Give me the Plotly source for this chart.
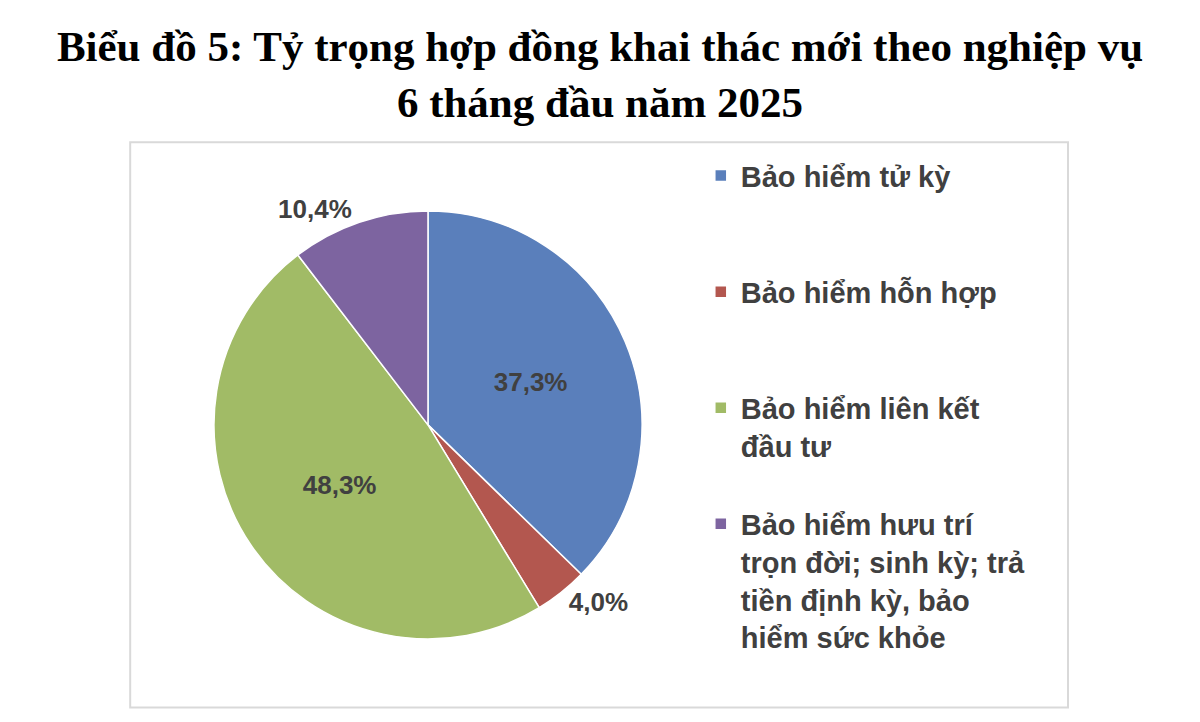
import plotly.graph_objects as go

# data
labels = [
    "Bảo hiểm tử kỳ",
    "Bảo hiểm hỗn hợp",
    "Bảo hiểm liên kết<br>đầu tư",
    "Bảo hiểm hưu trí<br>trọn đời; sinh kỳ; trả<br>tiền định kỳ, bảo<br>hiểm sức khỏe",
]
shares = [37.3, 4.0, 48.3, 10.4]
colors = ["#5A7FBB", "#B3574F", "#A1BB66", "#7D64A0"]
label_pos = ["inside", "outside", "inside", "outside"]

title_text = ("Biểu đồ 5: Tỷ trọng hợp đồng khai thác mới theo nghiệp vụ"
              "<br>6 tháng đầu năm 2025")


def pad_lines(text, n=3):
    # legend entries get the same height, like the even spacing in Excel
    count = text.count("<br>") + 1
    return text + "<br> " * max(0, n - count)


fig = go.Figure()
fig.add_trace(go.Pie(
    labels=[pad_lines(l) for l in labels],
    values=shares,
    sort=False,
    direction="clockwise",
    marker=dict(colors=colors, line=dict(color="white", width=1.5)),
    texttemplate="%{value:.1f}%",
    textposition=label_pos,
    insidetextorientation="horizontal",
    textfont=dict(family="Liberation Sans", size=26, color="#404040", weight="bold"),
    hoverinfo="label+value",
    domain=dict(x=[0.1783, 0.535], y=[0.115, 0.708]),
))

fig.update_layout(
    width=1200,
    height=722,
    margin=dict(l=0, r=0, t=0, b=0),
    paper_bgcolor="white",
    separators=",.",
    title=dict(
        text="<b>" + title_text + "</b>",
        x=0.5,
        xanchor="center",
        y=0.916,
        yanchor="top",
        font=dict(family="Liberation Serif", size=43, color="black"),
    ),
    legend=dict(
        x=0.584,
        y=0.792,
        xanchor="left",
        yanchor="top",
        valign="top",
        font=dict(family="Liberation Sans", size=29, color="#404040", weight="bold"),
        itemwidth=30,
    ),
    shapes=[dict(
        type="rect", xref="paper", yref="paper",
        x0=0.1085, x1=0.89, y0=0.02, y1=0.803,
        line=dict(color="#D9D9D9", width=2),
        layer="below",
    )],
)

fig.write_html("out.html", config={"displayModeBar": False},
               post_script="document.body.style.margin='0';")
